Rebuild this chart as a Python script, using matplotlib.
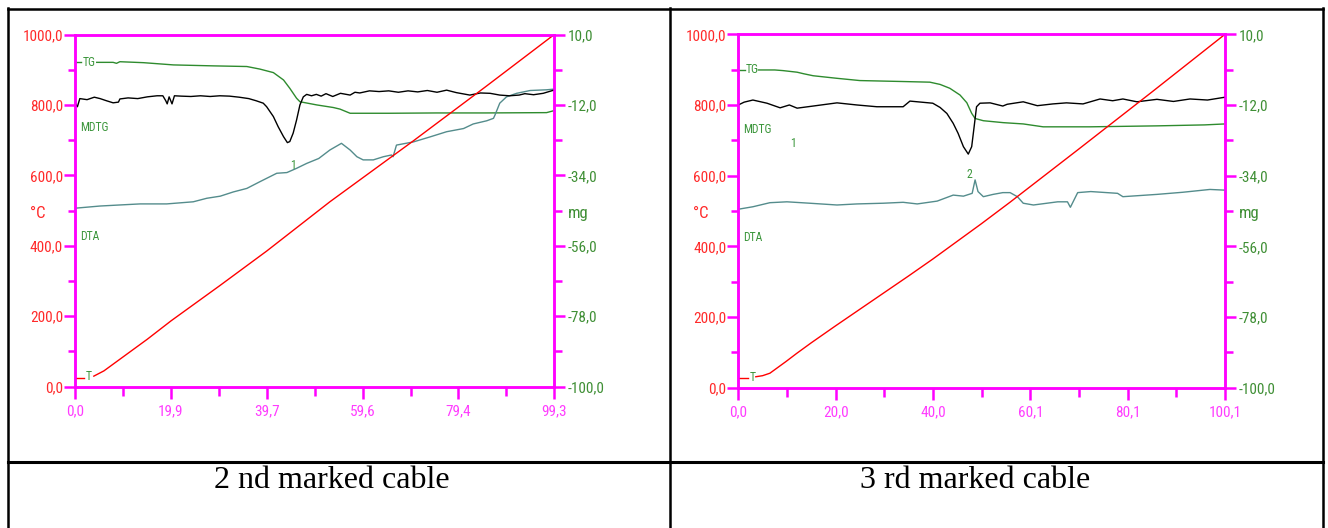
import numpy as np
import matplotlib.pyplot as plt
from matplotlib.lines import Line2D
from matplotlib.transforms import blended_transform_factory

plt.rcParams['font.family'] = ['Roboto Condensed', 'Liberation Sans Narrow',
                               'DejaVu Sans Condensed', 'Liberation Sans']
plt.rcParams['font.stretch'] = 'condensed'

W, H = 1328, 528

# ---- panel 1 : 2 nd marked cable (time in min) ----
xmax1 = 99.3
t1_T = [3.9, 6, 10, 15, 19.9, 30, 39.7, 52.8, 70, 85, 99.3]
T1 = [30, 45, 85, 135, 187, 287, 385, 525, 697, 851, 1000]

t1_TG = [4.5, 7.9, 8.6, 9.3, 14.2, 20.4, 28.7, 35.6, 38.3, 41.1, 43.2, 44.5, 45.9, 46.6,
         50.1, 53.5, 54.9, 57.0, 65, 75, 85, 97.7, 99.2]
TG1 = [1.3, 1.3, 1.0, 1.5, 1.2, 0.5, 0.2, 0.0, -0.8, -1.9, -4.2, -6.8, -9.9, -11.0,
       -12.0, -12.8, -13.3, -14.6, -14.6, -14.5, -14.5, -14.4, -13.8]

t1_MDTG = [0.0, 0.5, 1.0, 2.5, 4.0, 5.2, 6.5, 7.9, 9.0, 9.3, 11.0, 13.0, 15.0, 17.0, 18.2,
           18.8, 19.1, 19.5, 20.1, 20.6, 22.0, 24.0, 26.0, 28.0, 30.0, 32.0, 34.0, 36.0,
           37.5, 39.0, 39.7, 41.1, 42.1, 43.2, 44.0, 44.5, 45.2, 45.9, 46.6, 47.3, 48.0,
           49.0, 50.0, 51.0, 52.0, 53.4, 55.0, 57.0, 58.0, 59.0, 61.0, 63.0, 65.0, 67.0,
           69.0, 71.0, 73.0, 75.0, 77.0, 79.0, 81.8, 84.0, 86.0, 88.0, 90.0, 92.0, 93.2,
           95.0, 97.0, 99.2]
MDTG1 = [805, 795, 818, 815, 822, 818, 812, 806, 808, 817, 820, 818, 823, 826, 826,
         812, 803, 823, 803, 826, 825, 824, 826, 824, 826, 825, 822, 818,
         812, 805, 795, 767, 738, 710, 693, 696, 720, 757, 800, 823, 830,
         826, 830, 825, 832, 824, 833, 828, 836, 834, 840, 838, 840, 836,
         840, 837, 841, 836, 842, 835, 828, 834, 833, 828, 826, 828, 832,
         829, 833, 842]

t1_DTA = [0.2, 5.2, 9.3, 13.5, 19.0, 24.5, 27.3, 30.1, 32.8, 35.6, 38.3, 41.8, 43.9, 45.9,
          48.0, 50.5, 52.8, 55.2, 57.0, 58.4, 59.7, 61.8, 63.9, 65.6, 65.9, 66.6, 70.1,
          73.5, 77.0, 80.5, 82.5, 85.3, 86.7, 87.0, 88.0, 89.4, 91.5, 94.3, 97.7, 99.3]
DTA1 = [507, 513, 516, 519, 519, 525, 535, 541, 553, 563, 582, 606, 608, 620,
        634, 648, 672, 691, 672, 653, 644, 644, 653, 658, 653, 686, 695,
        709, 724, 733, 746, 755, 762, 771, 805, 823, 833, 841, 843, 845]

# ---- panel 2 : 3 rd marked cable ----
xmax2 = 100.1
t2_T = [3.6, 5.0, 6.5, 8.0, 9.8, 12, 15, 20, 25, 30, 35, 40, 45, 50, 55.9, 70, 85, 100.1]
T2 = [31, 34, 41, 56, 74, 97, 127, 175, 222, 269, 316, 364, 414, 464, 525, 675, 836, 1000]

t2_TG = [4.1, 7.5, 9.2, 12.1, 13.5, 15.4, 20.3, 25.0, 33.9, 39.4, 41.5, 43.5, 45.6, 47.0,
         48.0, 48.7, 50.4, 54.5, 58.6, 62.7, 72.3, 86.1, 95.9, 100.1]
TG2 = [-1.1, -1.1, -1.3, -1.8, -2.3, -2.9, -3.7, -4.4, -4.7, -4.9, -5.6, -6.8, -8.9, -11.3,
       -14.6, -16.2, -16.9, -17.5, -17.9, -18.8, -18.8, -18.5, -18.2, -17.9]

t2_MDTG = [0, 1.2, 3.0, 5.9, 8.6, 10.5, 12.1, 15.4, 20.3, 24.4, 28.5, 33.9, 35.3, 40.0,
           41.5, 42.9, 44.2, 45.2, 46.3, 47.3, 48.0, 48.5, 49.0, 49.7, 51.8, 54.4, 55.3,
           58.6, 61.5, 64.7, 67.5, 70.9, 74.4, 77.0, 79.1, 82.0, 86.1, 89.5, 92.9, 96.5, 100.1]
MDTG2 = [800, 808, 814, 805, 792, 800, 791, 797, 806, 800, 795, 795, 811, 805,
         793, 776, 748, 720, 682, 661, 682, 738, 795, 805, 806, 797, 802,
         809, 798, 803, 806, 803, 817, 812, 817, 809, 816, 810, 817, 814, 822]

t2_DTA = [0, 3.0, 6.5, 10.0, 14.7, 20.3, 24.4, 29.8, 33.9, 36.8, 40.9, 44.2, 46.3, 48.1,
          48.7, 49.3, 50.4, 52.4, 54.4, 55.9, 57.4, 58.6, 60.7, 65.7, 67.7, 68.3, 69.8,
          72.5, 78.0, 79.1, 86.1, 91.4, 97.0, 100.1]
DTA2 = [505, 512, 523.5, 526, 522, 517, 520, 522, 524.6, 520, 528, 545, 542, 550,
        588, 555, 540.5, 547, 552, 552, 540.5, 522, 517, 526, 526, 510.5, 552,
        555, 550, 540.5, 547, 553, 561, 559]

captions = ['2 nd marked cable', '3 rd marked cable']

MAG = '#ff00ff'
RED = '#ff2a2a'
GREEN = '#3c963c'
TEAL = '#548c8c'


def comma(v, pos=None):
    return f'{v:.1f}'.replace('.', ',')


def px_axes(fig, left, top, right, bottom):
    return fig.add_axes([left / W, 1 - bottom / H, (right - left) / W, (bottom - top) / H])


def draw_panel(fig, box, xmax, tT, T, tTG, TG, tM, M, tD, D, peaks):
    ax = px_axes(fig, *box)
    ax2 = ax.twinx()
    ax.set_zorder(ax2.get_zorder() + 1)
    ax.patch.set_visible(False)

    ax.plot(tD, D, color=TEAL, lw=1.0)
    ax.plot(tM, M, color='black', lw=1.0)
    ax.plot(tT, T, color='red', lw=1.0)
    ax2.plot(tTG, TG, color='#2e8b2e', lw=1.0)

    # short legend dashes at the start of TG and T, followed by the name
    ax2.plot([0.2, 1.3], [TG[0], TG[0]], color='#2e8b2e', lw=1.0)
    ax.plot([0.2, 1.9], [T[0] - 4, T[0] - 4], color='red', lw=1.0)
    lab = dict(color=GREEN, fontsize=8.5, ha='left', va='center')
    ax2.text(1.5, TG[0], 'TG', **lab)
    ax.text(2.3, T[0] - 2, 'T', **lab)
    ax.text(1.0, M[0] - 70, 'MDTG', **lab)
    ax.text(1.0, D[0] - 80, 'DTA', **lab)
    for px, py, s in peaks:
        ax.text(px, py, s, **lab)

    ax.set_xlim(0, xmax)
    ax.set_ylim(0, 1000)
    ax2.set_ylim(-100, 10)

    xt = np.linspace(0, xmax, 6)
    ax.set_xticks(xt)
    ax.set_xticks((xt[:-1] + xt[1:]) / 2, minor=True)
    ax.xaxis.set_major_formatter(comma)
    ax.set_yticks(np.arange(0, 1001, 200))
    ax.set_yticks(np.arange(100, 1000, 200), minor=True)
    ax.yaxis.set_major_formatter(comma)
    yt = np.linspace(-100, 10, 6)
    ax2.set_yticks(yt)
    ax2.set_yticks((yt[:-1] + yt[1:]) / 2, minor=True)
    ax2.yaxis.set_major_formatter(comma)

    for a in (ax, ax2):
        for sp in a.spines.values():
            sp.set_color(MAG)
            sp.set_linewidth(1.8)
    ax.tick_params(axis='x', which='major', length=8.6, width=1.8, color=MAG,
                   labelcolor='#ff3cff', labelsize=11, pad=4)
    ax.tick_params(axis='x', which='minor', length=6.5, width=1.8, color=MAG)
    ax.tick_params(axis='y', which='major', length=7.7, width=1.8, color=MAG,
                   labelcolor=RED, labelsize=11, pad=1)
    ax.tick_params(axis='y', which='minor', length=5.3, width=1.8, color=MAG)
    ax2.tick_params(axis='y', which='major', length=7.7, width=1.8, color=MAG,
                    labelcolor='#3f8f35', labelsize=11, pad=2)
    ax2.tick_params(axis='y', which='minor', length=5.8, width=1.8, color=MAG)

    tr = blended_transform_factory(ax.transAxes, ax.transData)
    ax.text(-0.094, 492, '°C', transform=tr, color=RED, fontsize=12, ha='left', va='center')
    ax.text(1.029, 492, 'mg', transform=tr, color='#3f8f35', fontsize=12, ha='left', va='center')
    return ax


fig = plt.figure(figsize=(W / 100, H / 100), dpi=100)

draw_panel(fig, (75, 34.5, 554.3, 386.7), xmax1, t1_T, T1, t1_TG, TG1,
           t1_MDTG, MDTG1, t1_DTA, DTA1, [(44.5, 627, '1')])
draw_panel(fig, (738.3, 34.3, 1225, 387.7), xmax2, t2_T, T2, t2_TG, TG2,
           t2_MDTG, MDTG2, t2_DTA, DTA2, [(10.6, 692, '1'), (47.0, 602, '2')])

# table grid
def hline(x0, x1, y, lw=1.8):
    fig.add_artist(Line2D([x0 / W, x1 / W], [1 - y / H, 1 - y / H], color='black', lw=lw))


def vline(x, y0, y1, lw=1.8):
    fig.add_artist(Line2D([x / W, x / W], [1 - y0 / H, 1 - y1 / H], color='black', lw=lw))


hline(8, 1323, 8.5)
hline(8, 1323, 462, lw=2.2)
vline(8, 8, 528)
vline(670, 8, 528)
vline(1323, 8, 528)

fig.text(332 / W, 1 - 481 / H, captions[0], family='Liberation Serif', fontsize=23,
         stretch='normal', ha='center', va='center')
fig.text(975 / W, 1 - 481 / H, captions[1], family='Liberation Serif', fontsize=23,
         stretch='normal', ha='center', va='center')

fig.savefig('out.png', dpi=100)
